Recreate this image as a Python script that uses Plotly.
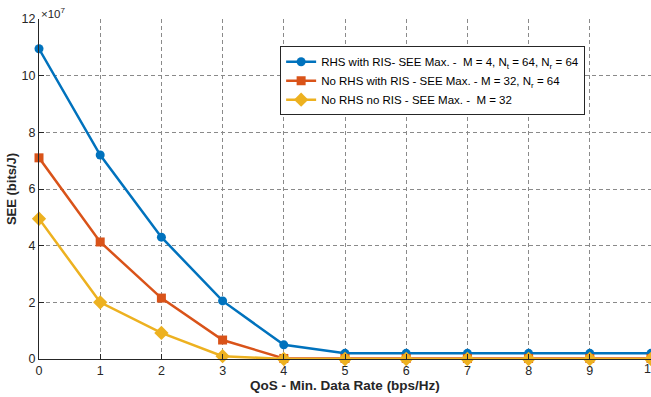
import plotly.graph_objects as go

qos = [0, 1, 2, 3, 4, 5, 6, 7, 8, 9, 10]
rhs_ris = [10.95, 7.2, 4.3, 2.05, 0.5, 0.2, 0.2, 0.2, 0.2, 0.2, 0.2]
norhs_ris = [7.1, 4.13, 2.15, 0.67, 0.02, 0.02, 0.02, 0.02, 0.02, 0.02, 0.02]
norhs_nori = [4.95, 2.0, 0.92, 0.1, 0.0, 0.0, 0.0, 0.0, 0.0, 0.0, 0.0]
names = [
    "RHS with RIS- SEE Max. -  M = 4, N<sub>t</sub> = 64, N<sub>r</sub> = 64",
    "No RHS with RIS - SEE Max. - M = 32, N<sub>r</sub> = 64",
    "No RHS no RIS - SEE Max. -  M = 32",
]
colors = ["#0072BD", "#D95319", "#EDB120"]
symbols = ["circle", "square", "diamond"]
yticks = [0, 2, 4, 6, 8, 10, 12]
xticks = list(range(11))

fig = go.Figure()
for ys, nm, c, s in zip([rhs_ris, norhs_ris, norhs_nori], names, colors, symbols):
    fig.add_trace(go.Scatter(
        x=qos, y=ys, name=nm, mode="lines+markers",
        line=dict(color=c, width=2.5),
        marker=dict(symbol=s, size=9 if s != "diamond" else 11, color=c),
        cliponaxis=False,
    ))

font = "Liberation Sans, Arial, sans-serif"
fig.update_layout(
    width=651, height=397,
    margin=dict(l=39, r=0, t=19, b=38),
    paper_bgcolor="white", plot_bgcolor="white",
    font=dict(family=font, size=12, color="#262626"),
    showlegend=True,
    legend=dict(
        x=0.394, y=0.92, xanchor="left", yanchor="top",
        bgcolor="white", bordercolor="#262626", borderwidth=1,
        font=dict(size=11.5, color="#000000"),
        tracegroupgap=0, itemwidth=30,
    ),
    xaxis=dict(
        range=[0, 10], tickvals=xticks, ticktext=[str(v) for v in xticks],
        showgrid=True, gridcolor="#8a8a8a", griddash="4px,3px", gridwidth=0.8,
        showline=True, linecolor="#262626", linewidth=1,
        ticks="inside", ticklen=5, tickcolor="#262626",
        zeroline=False,
        title=dict(text="<b>QoS - Min. Data Rate (bps/Hz)</b>", standoff=3,
                   font=dict(size=13.5, color="#262626")),
        tickfont=dict(size=12.5, color="#262626"),
    ),
    yaxis=dict(
        range=[0, 12], tickvals=yticks, ticktext=[str(v) for v in yticks],
        showgrid=True, gridcolor="#8a8a8a", griddash="4px,3px", gridwidth=0.8,
        showline=True, linecolor="#262626", linewidth=1,
        ticks="inside", ticklen=5, tickcolor="#262626",
        zeroline=False,
        title=dict(text="<b>SEE (bits/J)</b>", standoff=2,
                   font=dict(size=13, color="#262626")),
        tickfont=dict(size=12.5, color="#262626"),
    ),
)
fig.add_annotation(
    xref="x", yref="paper", x=10, y=0, xanchor="center", yanchor="top",
    text="10", showarrow=False, font=dict(size=12.5, color="#262626"),
    yshift=-1,
)
fig.add_annotation(
    xref="paper", yref="paper", x=0, y=1, xanchor="left", yanchor="bottom",
    text="×10<sup>7</sup>", showarrow=False, font=dict(size=11.5, color="#262626"),
    yshift=-3, xshift=0,
)
fig.write_html("out.html")
